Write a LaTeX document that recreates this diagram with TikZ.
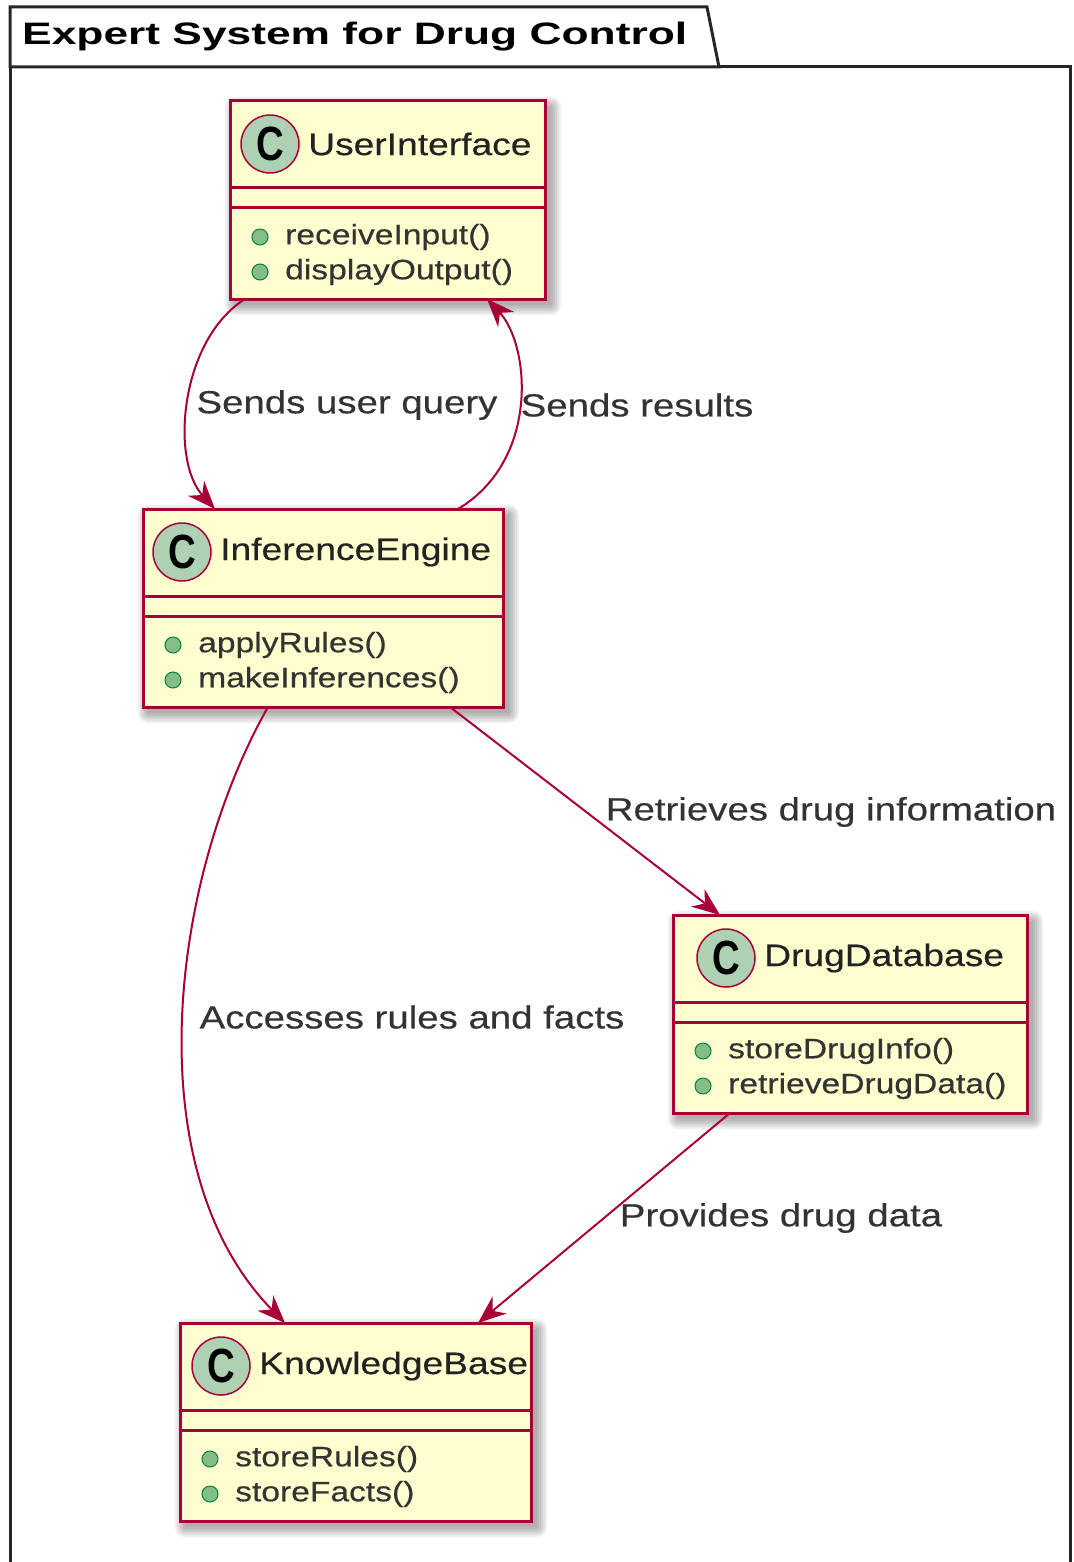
\documentclass[tikz,border=0pt]{standalone}
\usepackage{fontspec}
\setmainfont{Liberation Sans}
\newfontfamily\lblfont[FakeStretch=1.2,FakeBold=0.4]{Liberation Sans}
\newfontfamily\pkgfont[FakeStretch=1.43]{Liberation Sans}
\newfontfamily\cfont[FakeStretch=0.8]{Liberation Sans}
\usetikzlibrary{arrows.meta}

\definecolor{umlborder}{HTML}{A80036}
\definecolor{umlfill}{HTML}{FEFECE}
\definecolor{circfill}{HTML}{ADD1B2}
\definecolor{dotfill}{HTML}{84BE84}
\definecolor{dotline}{HTML}{038048}
\definecolor{lbltext}{HTML}{333333}
\definecolor{nametext}{HTML}{222222}
\definecolor{pkgline}{HTML}{262626}

\tikzset{
  classbox/.style={draw=umlborder, fill=umlfill, line width=3pt,
    inner sep=0pt, outer sep=0pt, rectangle},
  sepline/.style={draw=umlborder, line width=3pt},
  hdrcirc/.style={circle, draw=umlborder, fill=circfill, line width=1.5pt,
    minimum size=58pt, inner sep=0pt,
    font=\cfont\bfseries\fontsize{48}{48}\selectfont, text=black},
  clsname/.style={inner sep=0pt, anchor=west, text=nametext,
    font=\lblfont\fontsize{31}{31}\selectfont},
  methdot/.style={circle, fill=dotfill, draw=dotline, line width=1pt,
    minimum size=16pt, inner sep=0pt},
  methtext/.style={inner sep=0pt, anchor=west, text=lbltext,
    font=\lblfont\fontsize{28}{28}\selectfont},
  conn/.style={draw=umlborder, line width=2pt,
    -{Stealth[length=28pt,width=22pt,inset=9pt]}},
  edgelabel/.style={inner sep=0pt, text=lbltext,
    font=\lblfont\fontsize{32}{32}\selectfont},
  pkgframe/.style={draw=pkgline, line width=3pt},
}

% #1 node name, #2 left, #3 top, #4 right, #5 header offset,
% #6 class name, #7 first method, #8 second method
\newcommand\umlclass[8]{%
  \foreach \s in {0,2,4,6,8,10}
    \fill[black, opacity=0.06, rounded corners=\s pt]
      ({#2+5-\s},{#3+6-\s}) rectangle ({#4+6+\s},{#3+204+\s});
  \node[classbox, anchor=north west, minimum width={(#4-#2)*1pt},
        minimum height=198pt] (#1) at (#2,#3) {};
  \draw[sepline] ([yshift=-87pt]#1.north west) -- ([yshift=-87pt]#1.north east);
  \draw[sepline] ([yshift=-107pt]#1.north west) -- ([yshift=-107pt]#1.north east);
  \node[hdrcirc] at ([xshift=#5 pt,yshift=-43pt]#1.north west) {C};
  \node[clsname] at ([xshift={(#5+38)*1pt},yshift=-43pt]#1.north west) {#6};
  \node[methdot] at ([xshift=30pt,yshift=-136pt]#1.north west) {};
  \node[methtext] at ([xshift=55pt,yshift=-136pt]#1.north west) {#7};
  \node[methdot] at ([xshift=30pt,yshift=-171pt]#1.north west) {};
  \node[methtext] at ([xshift=55pt,yshift=-171pt]#1.north west) {#8};
}

\begin{document}
\begin{tikzpicture}[x=1pt, y=-1pt]
  \useasboundingbox (0,0) rectangle (1073,1562);
  \clip (0,0) rectangle (1073,1562);
  \fill[white] (0,0) rectangle (1073,1562);

  % package frame with its name tab
  \draw[pkgframe] (10,67) rectangle (1070,1620);
  \filldraw[pkgframe, fill=white] (10,67) -- (10,7) -- (707,7) -- (719,67) -- cycle;
  \node[inner sep=0pt, anchor=west, text=black,
        font=\pkgfont\bfseries\fontsize{31}{31}\selectfont] (pkg) at (22,37)
        {Expert System for Drug Control};

  % classes
  \umlclass{ui}{230}{101}{545}{40}{UserInterface}{receiveInput()}{displayOutput()}
  \umlclass{ie}{143}{509}{503}{39}{InferenceEngine}{applyRules()}{makeInferences()}
  \umlclass{dd}{673}{915}{1027}{53}{DrugDatabase}{storeDrugInfo()}{retrieveDrugData()}
  \umlclass{kb}{180}{1323}{531}{41}{KnowledgeBase}{storeRules()}{storeFacts()}

  % relations
  \draw[conn] ([xshift=15pt]ui.south west)
     .. controls (180,340) and (170,460) .. ([xshift=72pt]ie.north west);
  \draw[conn] ([xshift=315pt]ie.north west)
     .. controls (540,460) and (530,345) .. ([xshift=257pt]ui.south west);
  \draw[conn] ([xshift=307pt]ie.south west) -- ([xshift=47pt]dd.north west);
  \draw[conn] ([xshift=125pt]ie.south west)
     .. controls (170,880) and (135,1170) .. ([xshift=105pt]kb.north west);
  \draw[conn] ([xshift=57pt]dd.south west) -- ([xshift=298pt]kb.north west);

  % relation labels
  \node[edgelabel] (l1) at (347,405) {Sends user query};
  \node[edgelabel] (l2) at (637,405) {Sends results};
  \node[edgelabel] (l3) at (831,812) {Retrieves drug information};
  \node[edgelabel] (l4) at (412,1017) {Accesses rules and facts};
  \node[edgelabel] (l5) at (781,1218) {Provides drug data};
\end{tikzpicture}
\end{document}
